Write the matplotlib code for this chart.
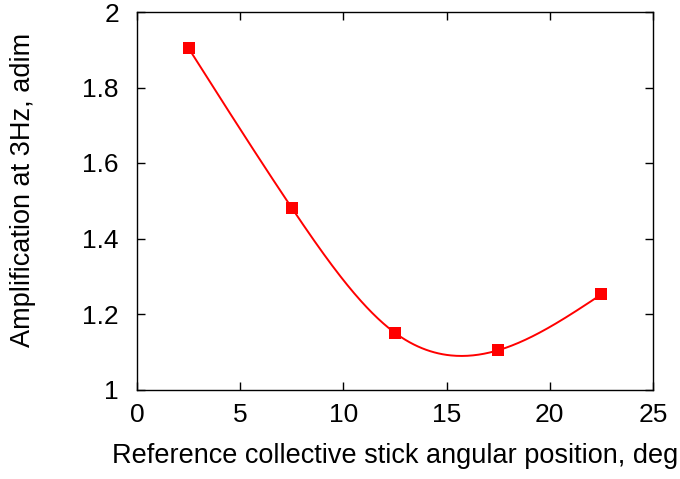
import matplotlib
matplotlib.use('Agg')
import matplotlib.pyplot as plt
import numpy as np

angle = [2.5, 7.5, 12.5, 17.5, 22.5]
amplification = [1.904, 1.481, 1.150, 1.104, 1.252]
x_ticks = [0, 5, 10, 15, 20, 25]
y_ticks = [1, 1.2, 1.4, 1.6, 1.8, 2]
y_labels = ['1', '1.2', '1.4', '1.6', '1.8', '2']


def natural_cspline(x, y, n=300):
    """Natural cubic spline through the given points (like gnuplot csplines)."""
    x = np.asarray(x, float)
    y = np.asarray(y, float)
    k = len(x)
    h = np.diff(x)
    a = np.zeros((k, k))
    b = np.zeros(k)
    a[0, 0] = a[-1, -1] = 1
    for i in range(1, k - 1):
        a[i, i - 1] = h[i - 1]
        a[i, i] = 2 * (h[i - 1] + h[i])
        a[i, i + 1] = h[i]
        b[i] = 6 * ((y[i + 1] - y[i]) / h[i] - (y[i] - y[i - 1]) / h[i - 1])
    m = np.linalg.solve(a, b)
    xs = np.linspace(x[0], x[-1], n)
    idx = np.clip(np.searchsorted(x, xs) - 1, 0, k - 2)
    x0, x1 = x[idx], x[idx + 1]
    hh = x1 - x0
    t0, t1 = x1 - xs, xs - x0
    ys = (m[idx] * t0 ** 3 + m[idx + 1] * t1 ** 3) / (6 * hh) \
        + (y[idx] / hh - m[idx] * hh / 6) * t0 \
        + (y[idx + 1] / hh - m[idx + 1] * hh / 6) * t1
    return xs, ys


plt.rcParams['font.family'] = ['Liberation Sans', 'DejaVu Sans']

fig = plt.figure(figsize=(6.8, 4.79), dpi=100)
ax = fig.add_axes([137 / 680, 1 - 389.5 / 479, (653 - 137) / 680, (389.5 - 12) / 479])

xs, ys = natural_cspline(angle, amplification)
ax.plot(xs, ys, color='#ff0000', lw=1.4)
ax.plot(angle, amplification, 's', color='#ff0000', ms=9.2, mew=0)

ax.set_xlim(0, 25)
ax.set_ylim(1, 2)
ax.set_xticks(x_ticks)
ax.set_yticks(y_ticks)
ax.set_yticklabels(y_labels)
ax.tick_params(direction='in', length=6, width=1, top=True, right=True,
               labelsize=19)
ax.tick_params(axis='x', pad=10)
ax.tick_params(axis='y', pad=13)
for s in ax.spines.values():
    s.set_linewidth(1)

ax.set_xlabel('Reference collective stick angular position, deg', fontsize=19.5)
ax.xaxis.set_label_coords(0.5, -0.143)
ax.set_ylabel('Amplification at 3Hz, adim', fontsize=19.5)
ax.yaxis.set_label_coords(-0.195, 0.528)

fig.savefig('out.png', dpi=100)
